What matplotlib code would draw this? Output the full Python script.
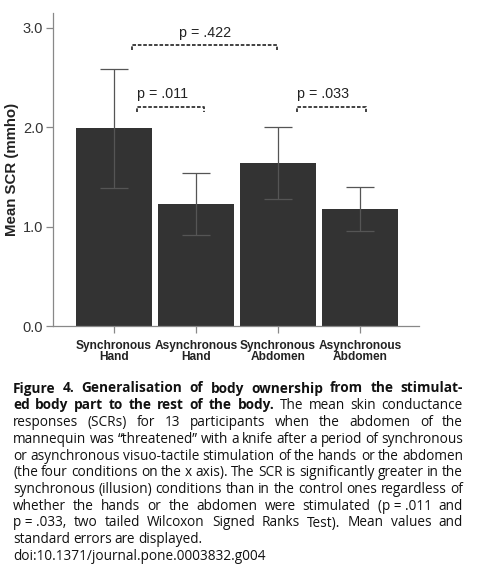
import matplotlib
matplotlib.use('Agg')
import matplotlib.pyplot as plt
from matplotlib import font_manager
import numpy as np

categories = ['Synchronous\nHand', 'Asynchronous\nHand', 'Synchronous\nAbdomen', 'Asynchronous\nAbdomen']
means = [1.99, 1.225, 1.64, 1.18]
sems = [0.60, 0.31, 0.36, 0.22]
comparisons = [(0, 2, 'p = .422'), (0, 1, 'p = .011'), (2, 3, 'p = .033')]

caption_lines = [
    [('b', 'Figure 4. Generalisation of body ownership from the stimulat-')],
    [('b', 'ed body part to the rest of the body.'), ('n', 'The mean skin conductance')],
    [('n', 'responses (SCRs) for 13 participants when the abdomen of the')],
    [('n', 'mannequin was \u201cthreatened\u201d with a knife after a period of synchronous')],
    [('n', 'or asynchronous visuo-tactile stimulation of the hands or the abdomen')],
    [('n', '(the four conditions on the x axis). The SCR is significantly greater in the')],
    [('n', 'synchronous (illusion) conditions than in the control ones regardless of')],
    [('n', 'whether the hands or the abdomen were stimulated (p\u00a0=\u00a0.011 and')],
    [('n', 'p\u00a0=\u00a0.033, two tailed Wilcoxon Signed Ranks Test). Mean values and')],
    [('n', 'standard errors are displayed.')],
    [('n', 'doi:10.1371/journal.pone.0003832.g004')],
]
justified = [True] * 9 + [False, False]


def pick_font(filename, weight):
    # static Open Sans files by name; the variable font would not go bold
    for f in font_manager.fontManager.ttflist:
        if f.fname.split('/')[-1] == filename:
            return font_manager.FontProperties(family='Open Sans', fname=f.fname, weight=weight, size=9.8)
    return font_manager.FontProperties(family='Liberation Sans', weight=weight, size=9.8)


fp_normal = pick_font('OpenSans-Regular.ttf', 'normal')
fp_bold = pick_font('OpenSans-Bold.ttf', 'bold')

W, H = 481, 572
fig = plt.figure(figsize=(W / 100, H / 100), dpi=100)
plt.rcParams['font.family'] = ['Liberation Sans', 'DejaVu Sans']

ax = fig.add_axes([53 / W, 1 - 326 / H, (419 - 53) / W, (326 - 13) / H])
x = np.arange(len(categories))
ax.bar(x, means, width=0.92, color='#333333', zorder=2)
ax.errorbar(x, means, yerr=sems, fmt='none', ecolor='#555555', elinewidth=0.9,
            capsize=10, capthick=0.9, zorder=3)

ax.set_xlim(-0.744, 3.72)
ax.set_ylim(0, 3.15)
ax.set_yticks([0, 1, 2, 3])
ax.set_yticklabels(['0.0', '1.0', '2.0', '3.0'], fontsize=10.5, color='#333333')
ax.set_xticks(x)
ax.set_xticklabels(categories, fontsize=8.6, fontweight='bold', color='#222222', linespacing=0.95)
ax.tick_params(axis='both', length=5, width=0.9, color='#888888', pad=2)
ax.tick_params(axis='x', pad=5)
for s in ['top', 'right']:
    ax.spines[s].set_visible(False)
for s in ['left', 'bottom']:
    ax.spines[s].set_color('#888888')
    ax.spines[s].set_linewidth(0.9)
ax.set_ylabel('Mean SCR (mmho)', fontsize=10.8, fontweight='bold', color='#222222')
ax.yaxis.set_label_coords(-(53 - 19) / (419 - 53), 0.5)

# significance brackets
bracket_geo = [(0.22, -0.01, 2.83, 2.95, 'center'), (0.28, 0.1, 2.2, 2.33, 'left'), (0.23, 0.07, 2.2, 2.33, 'left')]
for (i, j, lab), (lo, ro, yb, yt, ha) in zip(comparisons, bracket_geo):
    x0, x1 = i + lo, j + ro
    ax.plot([x0, x0, x1, x1], [yb - 0.05, yb, yb, yb - 0.05], ls=(0, (2, 1)),
            color='#333333', lw=1.3, zorder=4)
    tx = (x0 + x1) / 2 if ha == 'center' else x0
    ax.text(tx, yt, lab, ha=ha, va='center', fontsize=10.3, color='#222222')

# caption, justified
left, right = 13, 463
fig.canvas.draw()
renderer = fig.canvas.get_renderer()
for k, (segs, just) in enumerate(zip(caption_lines, justified)):
    ybase = 1 - (392.5 + 16.75 * k) / H
    words = []
    for style, txt in segs:
        for w in txt.split(' '):
            words.append((style, w))
    arts = []
    for style, w in words:
        t = fig.text(0, ybase, w, fontproperties=fp_bold if style == 'b' else fp_normal,
                     va='baseline', ha='left', color='#111111')
        arts.append(t)
    widths = [a.get_window_extent(renderer).width for a in arts]
    if just and len(arts) > 1:
        gap = (right - left - sum(widths)) / (len(arts) - 1)
    else:
        gap = 3.0
    xp = left
    for a, wd in zip(arts, widths):
        a.set_x(xp / W)
        xp += wd + gap

fig.savefig('out.png', dpi=100)
